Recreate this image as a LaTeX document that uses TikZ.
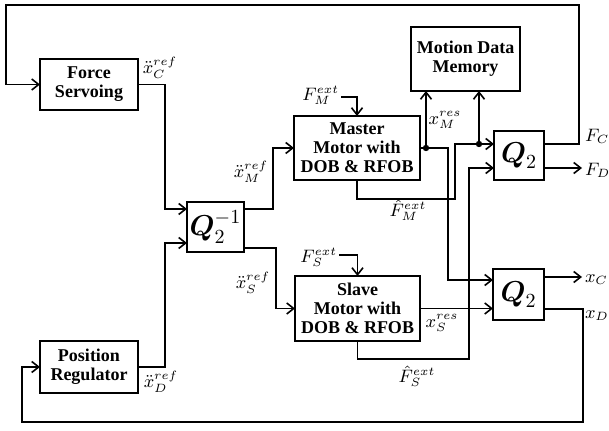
\documentclass[tikz,border=0pt]{standalone}
\usepackage{amsmath}
\usepackage{fontspec}
\setmainfont{Liberation Serif}
\usetikzlibrary{positioning, arrows.meta, calc}

\begin{document}
\begin{tikzpicture}[x=0.5pt,y=-0.5pt,every node/.style={inner sep=0pt,outer sep=0pt},font=\fontsize{9}{9.5}\selectfont,
        line width=0.8pt,
        blk/.style={draw,align=center,font=\fontsize{9}{9.5}\selectfont\bfseries},
        qblk/.style={draw,font=\fontsize{14}{16}\selectfont},
        arr/.style={-{Straight Barb[length=3.5pt,width=5.5pt]}}]
        \useasboundingbox (0,0) rectangle (609,431);
        % 方框
        \node[blk,minimum width=49pt,minimum height=25.5pt] (fs) at (89,84.5) {Force\\Servoing};
        \node[blk,minimum width=49pt,minimum height=26pt] (pr) at (89,367) {Position\\Regulator};
        \node[qblk,minimum width=28.5pt,minimum height=25pt] (qinv) at (215.5,227) {$\boldsymbol{Q}_2^{-1}$};
        \node[blk,minimum width=63pt,minimum height=32pt] (master) at (357,148) {Master\\Motor with\\DOB \& RFOB};
        \node[blk,minimum width=62.5pt,minimum height=32.5pt] (slave) at (357.5,308.5) {Slave\\Motor with\\DOB \& RFOB};
        \node[blk,minimum width=54.5pt,minimum height=32pt] (mdm) at (465.5,59) {Motion Data\\Memory};
        \node[qblk,minimum width=25pt,minimum height=24.5pt] (qa) at (519,155.5) {$\boldsymbol{Q}_2$};
        \node[qblk,minimum width=25.5pt,minimum height=25.5pt] (qb) at (518.5,294.5) {$\boldsymbol{Q}_2$};
        % 标签
        \node (xcref) at (160,68) {$\ddot{x}_C^{ref}$};
        \node (xdref) at (161,382) {$\ddot{x}_D^{ref}$};
        \node (xmref) at (251,172) {$\ddot{x}_M^{ref}$};
        \node (xsref) at (253,283) {$\ddot{x}_S^{ref}$};
        \node[anchor=east] (fme) at (339,95) {$F_M^{ext}$};
        \node[anchor=east] (fse) at (337,257) {$F_S^{ext}$};
        \node (xmres) at (445,120) {$x_M^{res}$};
        \node (xsres) at (442,323) {$x_S^{res}$};
        \node (fmhat) at (408,210) {$\hat{F}_M^{ext}$};
        \node (fshat) at (417,376) {$\hat{F}_S^{ext}$};
        \node[anchor=west] (fc) at (585,136) {$F_C$};
        \node[anchor=west] (fd) at (585,170) {$F_D$};
        \node[anchor=west] (xc) at (585,280) {$x_C$};
        \node[anchor=west] (xd) at (585,316) {$x_D$};
        \coordinate (top) at (6,5);
        \coordinate (bot) at (22,422);
        % 连线
        \draw[arr] (fs.east) -| ($(qinv.west)+(-22,-18)$) -- ($(qinv.west)+(0,-18)$);
        \draw[arr] (pr.east) -| ($(qinv.west)+(-22,16)$) -- ($(qinv.west)+(0,16)$);
        \draw[arr] ($(qinv.east)+(0,-18)$) -| ($(master.west)+(-21,0)$) -- (master.west);
        \draw[arr] ($(qinv.east)+(0,21)$) -| ($(slave.west)+(-19,0)$) -- (slave.west);
        \draw[arr] ($(fme.east)+(2,2)$) -| (master.north);
        \draw[arr] ($(fse.east)+(2,-2)$) -| (slave.north);
        % 主端输出
        \coordinate (jm) at ($(master.east)+(6,0)$);
        \draw[arr] (master.east) -| ($(qb.west)+(-45,-14.5)$) -- ($(qb.west)+(0,-14.5)$);
        \draw[arr] (jm) -- (jm |- mdm.south);
        \fill (jm) circle (1.6pt);
        \coordinate (jf) at ($(qa.west)+(-15,-11.5)$);
        \draw[arr] (master.south) -- ++(0,19) -| ($(qa.west)+(-39,-11.5)$) -- ($(qa.west)+(0,-11.5)$);
        \draw[arr] (jf) -- (jf |- mdm.south);
        \fill (jf) circle (1.6pt);
        % 从端输出
        \draw[arr] (slave.south) -- ++(0,18) -| ($(qa.west)+(-25,12.5)$) -- ($(qa.west)+(0,12.5)$);
        \draw[arr] (slave.east) -- (slave.east -| qb.west);
        % 反馈
        \draw[arr] ($(qa.east)+(0,-11.5)$) -- ++(35,0) |- (top) |- (fs.west);
        \draw[arr] ($(qa.east)+(0,12.5)$) -- ++(38,0);
        \draw[arr] ($(qb.east)+(0,-17.5)$) -- ++(38,0);
        \draw[arr] ($(qb.east)+(0,14.5)$) -- ++(39,0) |- (bot) |- (pr.west);
    \end{tikzpicture}
\end{document}
